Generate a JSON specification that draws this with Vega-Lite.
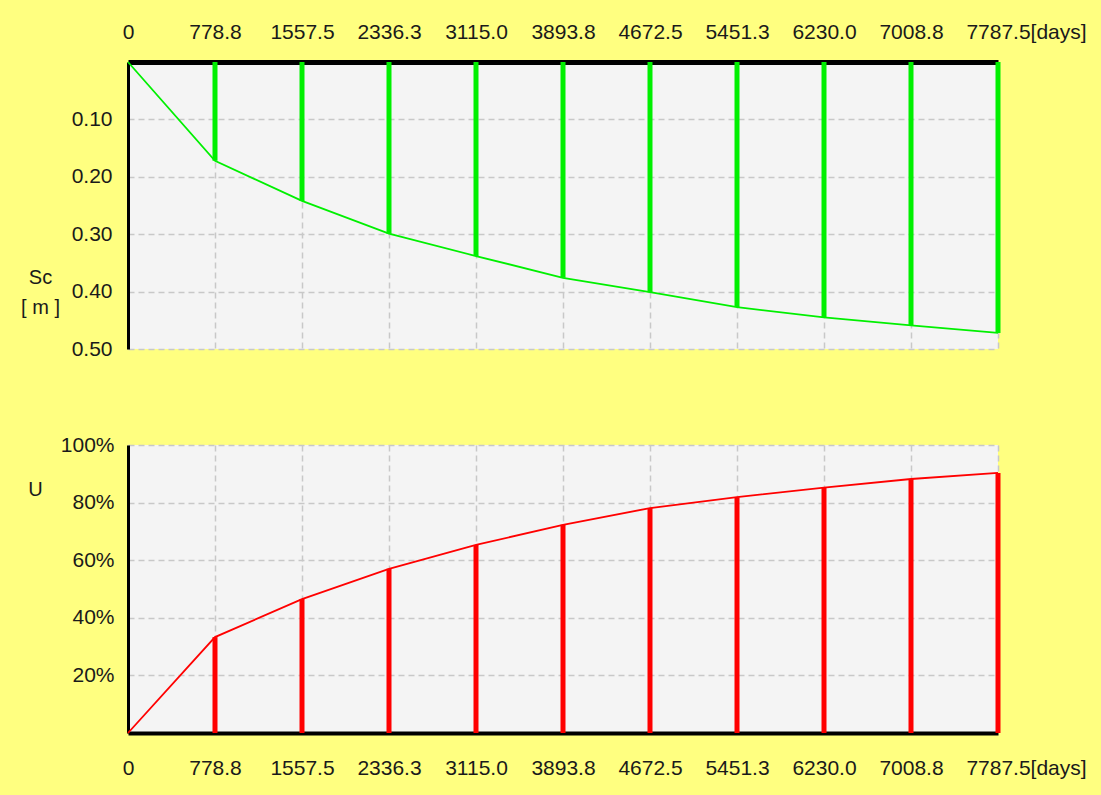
{
  "$schema": "https://vega.github.io/schema/vega-lite/v6.json",
  "autosize": {"type": "pad"},
  "padding": {"left": 20, "top": 21, "right": 15, "bottom": 17},
  "background": "#FFFF80",
  "data": {"values": [
    {"t": 0, "sc": 0, "u": 0},
    {"t": 778.75, "sc": 0.172, "u": 0.333},
    {"t": 1557.5, "sc": 0.242, "u": 0.465},
    {"t": 2336.25, "sc": 0.299, "u": 0.570},
    {"t": 3115, "sc": 0.338, "u": 0.653},
    {"t": 3893.75, "sc": 0.376, "u": 0.723},
    {"t": 4672.5, "sc": 0.401, "u": 0.781},
    {"t": 5451.25, "sc": 0.427, "u": 0.819},
    {"t": 6230, "sc": 0.445, "u": 0.852},
    {"t": 7008.75, "sc": 0.459, "u": 0.882},
    {"t": 7787.5, "sc": 0.472, "u": 0.903}
  ]},
  "spacing": 96,
  "bounds": "flush",
  "config": {
    "view": {"fill": "#F4F4F4", "stroke": null},
    "axis": {
      "labelFont": "Liberation Sans",
      "labelFontSize": 21,
      "labelColor": "#1a1a1a",
      "titleFont": "Liberation Sans",
      "titleFontSize": 20,
      "titleFontWeight": "normal",
      "titleColor": "#1a1a1a",
      "ticks": false,
      "domainColor": "#000000",
      "gridColor": "#C8C8C8",
      "gridDash": [6, 4],
      "gridWidth": 1.5,
      "labelOverlap": false,
      "labelFlush": false,
      "labelBound": false
    }
  },
  "resolve": {"scale": {"y": "independent"}},
  "vconcat": [
    {
      "width": 870,
      "height": 287,
      "encoding": {
        "x": {
          "field": "t", "type": "quantitative",
          "scale": {"domain": [0, 7787.5], "nice": false, "zero": false},
          "axis": {
            "orient": "top",
            "title": null,
            "values": [0, 778.75, 1557.5, 2336.25, 3115, 3893.75, 4672.5, 5451.25, 6230, 7008.75, 7787.5],
            "labelExpr": "datum.value == 0 ? '0' : (datum.value > 7787 ? format(datum.value, '.1f') + '[days]' : format(datum.value, '.1f'))",
            "labelOffset": {"condition": {"test": "datum.value > 7787", "value": 28}, "value": 0},
            "labelPadding": 20,
            "domainWidth": 5
          }
        }
      },
      "layer": [
        {
          "mark": {"type": "rule", "color": "#00F000", "strokeWidth": 5},
          "encoding": {
            "y": {
              "field": "sc", "type": "quantitative",
              "scale": {"domain": [0, 0.5], "reverse": true, "nice": false},
              "axis": {
                "title": ["Sc", "[ m ]"],
                "titleAngle": 0,
                "titleAlign": "center",
                "titleBaseline": "alphabetic",
                "titleX": -88,
                "titleY": 221,
                "titleLineHeight": 30,
                "values": [0, 0.05, 0.1, 0.15, 0.2, 0.25, 0.3, 0.35, 0.4, 0.45, 0.5],
                "labelExpr": "(datum.value > 0.01 && round(datum.value * 100) % 10 == 0) ? format(datum.value, '.2f') : ''",
                "labelPadding": 16,
                "domainWidth": 3
              }
            },
            "y2": {"datum": 0}
          }
        },
        {
          "mark": {"type": "line", "color": "#00F000", "strokeWidth": 1.8},
          "encoding": {"y": {"field": "sc", "type": "quantitative"}}
        }
      ]
    },
    {
      "width": 870,
      "height": 288,
      "encoding": {
        "x": {
          "field": "t", "type": "quantitative",
          "scale": {"domain": [0, 7787.5], "nice": false, "zero": false},
          "axis": {
            "orient": "bottom",
            "title": null,
            "values": [0, 778.75, 1557.5, 2336.25, 3115, 3893.75, 4672.5, 5451.25, 6230, 7008.75, 7787.5],
            "labelExpr": "datum.value == 0 ? '0' : (datum.value > 7787 ? format(datum.value, '.1f') + '[days]' : format(datum.value, '.1f'))",
            "labelOffset": {"condition": {"test": "datum.value > 7787", "value": 28}, "value": 0},
            "labelPadding": 24,
            "domainWidth": 4
          }
        }
      },
      "layer": [
        {
          "mark": {"type": "rule", "color": "#FF0000", "strokeWidth": 5},
          "encoding": {
            "y": {
              "field": "u", "type": "quantitative",
              "scale": {"domain": [0, 1], "nice": false},
              "axis": {
                "title": "U",
                "titleAngle": 0,
                "titleAlign": "center",
                "titleBaseline": "alphabetic",
                "titleX": -93,
                "titleY": 50,
                "values": [0, 0.1, 0.2, 0.3, 0.4, 0.5, 0.6, 0.7, 0.8, 0.9, 1],
                "labelExpr": "(datum.value > 0.01 && round(datum.value * 10) % 2 == 0) ? format(datum.value, '.0%') : ''",
                "labelPadding": 14,
                "domainWidth": 3
              }
            },
            "y2": {"datum": 0}
          }
        },
        {
          "mark": {"type": "line", "color": "#FF0000", "strokeWidth": 1.8},
          "encoding": {"y": {"field": "u", "type": "quantitative"}}
        }
      ]
    }
  ]
}
